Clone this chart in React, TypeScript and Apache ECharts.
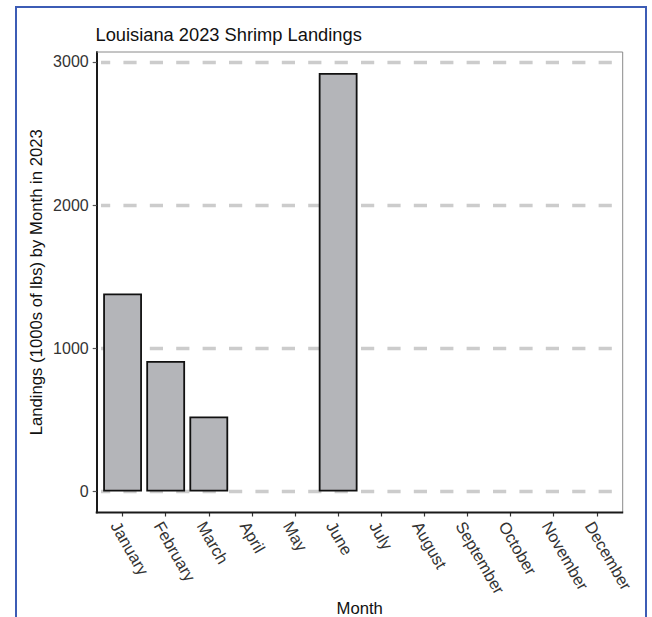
import React, { useEffect, useRef } from "react";
import * as echarts from "echarts";

const months = [
  "January", "February", "March", "April", "May", "June",
  "July", "August", "September", "October", "November", "December",
];
const landings: (number | null)[] = [1383, 911, 524, null, null, 2922, null, null, null, null, null, null];
const yTicks = [0, 1000, 2000, 3000];
const chartTitle = "Louisiana 2023 Shrimp Landings";
const xTitle = "Month";
const yTitle = "Landings (1000s of lbs) by Month in 2023";

const W = 652;
const H = 617;
const PANEL = { left: 96.7, right: 622.7, top: 52, bottom: 512.5 };
const FONT = "'Liberation Sans', Arial, Helvetica, sans-serif";

export default function App() {
  const ref = useRef<HTMLDivElement>(null);

  useEffect(() => {
    if (!ref.current) return;
    const chart = echarts.init(ref.current, undefined, { renderer: "svg" });

    const n = months.length;
    const band = (PANEL.right - PANEL.left) / (n + 0.2);
    const gridLeft = PANEL.left + band * 0.1;
    const gridRight = PANEL.right - band * 0.1;

    const vals = landings.filter((v) => v != null) as number[];
    const maxV = Math.max(...vals);
    const pad = maxV * 0.05;

    chart.setOption({
      animation: false,
      backgroundColor: "#ffffff",
      textStyle: { fontFamily: FONT },
      title: {
        text: chartTitle,
        left: 95.5,
        top: 25,
        padding: 0,
        textStyle: { fontSize: 18.3, fontWeight: "normal", color: "#111", fontFamily: FONT },
      },
      grid: {
        left: gridLeft,
        right: W - gridRight,
        top: PANEL.top,
        bottom: H - PANEL.bottom,
        containLabel: false,
        outerBoundsMode: "none",
      },
      xAxis: {
        type: "category",
        data: months,
        axisLine: { show: false, onZero: false },
        axisTick: { show: true, alignWithLabel: true, length: 4, lineStyle: { color: "#333", width: 1.2 } },
        axisLabel: {
          interval: 0,
          rotate: -60,
          fontSize: 16.5,
          color: "#333",
          align: "left",
          verticalAlign: "top",
          margin: 6,
          fontFamily: FONT,
        },
        name: xTitle,
        nameLocation: "middle",
        nameGap: 89,
        nameMoveOverlap: false,
        nameTextStyle: { fontSize: 16.7, lineHeight: 14, color: "#111", fontFamily: FONT },
      },
      yAxis: {
        type: "value",
        min: -pad,
        max: maxV + pad,
        splitNumber: 3,
        offset: gridLeft - PANEL.left,
        axisLine: { show: true, lineStyle: { color: "#1a1a1a", width: 2 } },
        axisTick: { show: true, length: 4, customValues: yTicks, lineStyle: { color: "#555", width: 1.2 } },
        axisLabel: {
          customValues: yTicks,
          formatter: (v: number) => String(v),
          fontSize: 16,
          color: "#333",
          margin: 8,
          fontFamily: FONT,
        },
        splitLine: {
          show: true,
          lineStyle: { color: "#cccccc", width: 3.3, type: [13.2, 13.2], dashOffset: gridLeft - PANEL.left },
        },
        name: yTitle,
        nameLocation: "middle",
        nameGap: 52,
        nameMoveOverlap: false,
        nameTextStyle: { fontSize: 16.7, color: "#111", fontFamily: FONT },
      },
      series: [
        {
          type: "bar",
          data: landings,
          barWidth: "90%",
          itemStyle: { color: "#b4b5b9", borderColor: "#111", borderWidth: 1.8 },
          z: 3,
        },
      ],
      graphic: [
        {
          type: "rect",
          z: 100,
          silent: true,
          shape: { x: 16, y: 7, width: 630, height: 650 },
          style: { fill: "none", stroke: "#3c5cb5", lineWidth: 2 },
        },
        {
          type: "polyline",
          z: 50,
          silent: true,
          shape: { points: [[PANEL.left, PANEL.top], [PANEL.right, PANEL.top], [PANEL.right, PANEL.bottom]] },
          style: { fill: "none", stroke: "#8a8a8a", lineWidth: 1 },
        },
        {
          type: "line",
          z: 50,
          silent: true,
          shape: { x1: PANEL.left - 1, y1: PANEL.bottom, x2: PANEL.right + 0.5, y2: PANEL.bottom },
          style: { stroke: "#1a1a1a", lineWidth: 2 },
        },
      ],
    });

    return () => chart.dispose();
  }, []);

  return (
    <div
      ref={ref}
      style={{ position: "fixed", left: 0, top: 0, width: W, height: H, background: "#fff" }}
    />
  );
}
